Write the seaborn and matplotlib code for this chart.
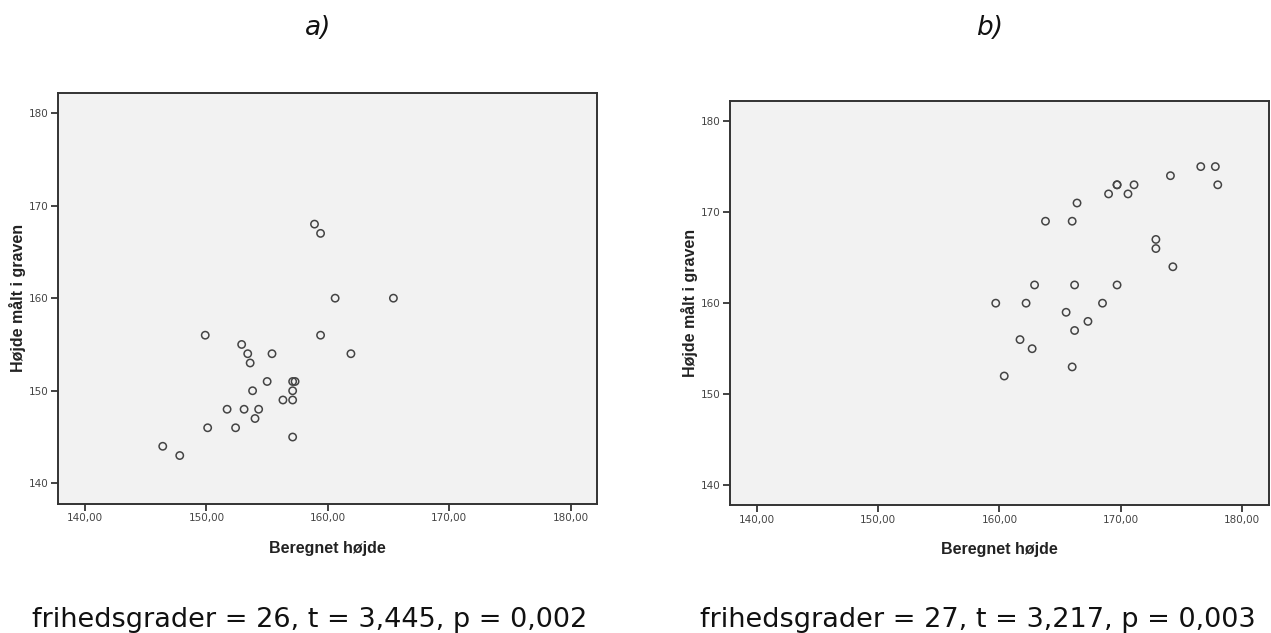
import pandas as pd
import matplotlib
matplotlib.use('Agg')
import matplotlib.pyplot as plt
import seaborn as sns

sns.set_style('white')
plt.rcParams['font.family'] = ['DejaVu Sans']

# a) beregnet højde vs. højde målt i graven
beregnet_a = [158.9, 159.4, 160.6, 165.4, 149.9, 159.4, 152.9, 153.4, 155.4, 161.9,
              153.6, 155.0, 157.1, 157.3, 153.8, 157.1, 156.3, 157.1, 151.7, 153.1,
              154.3, 154.0, 150.1, 152.4, 157.1, 146.4, 147.8]
maalt_a = [168, 167, 160, 160, 156, 156, 155, 154, 154, 154,
           153, 151, 151, 151, 150, 150, 149, 149, 148, 148,
           148, 147, 146, 146, 145, 144, 143]

# b)
beregnet_b = [176.6, 177.8, 174.1, 169.7, 169.7, 171.1, 178.0, 169.0, 170.6, 166.4,
              163.8, 166.0, 172.9, 172.9, 174.3, 162.9, 166.2, 169.7, 159.7, 162.2,
              168.5, 165.5, 167.3, 166.2, 161.7, 162.7, 166.0, 160.4]
maalt_b = [175, 175, 174, 173, 173, 173, 173, 172, 172, 171,
           169, 169, 167, 166, 164, 162, 162, 162, 160, 160,
           160, 159, 158, 157, 156, 155, 153, 152]

x_ticks = [140, 150, 160, 170, 180]
x_tick_labels = ['140,00', '150,00', '160,00', '170,00', '180,00']
y_ticks = [140, 150, 160, 170, 180]
y_tick_labels = ['140', '150', '160', '170', '180']

panels = ['a)', 'b)']
stats = ['frihedsgrader = 26, t = 3,445, p = 0,002',
         'frihedsgrader = 27, t = 3,217, p = 0,003']

df_a = pd.DataFrame({'Beregnet højde': beregnet_a, 'Højde målt i graven': maalt_a})
df_b = pd.DataFrame({'Beregnet højde': beregnet_b, 'Højde målt i graven': maalt_b})

fig = plt.figure(figsize=(12.71, 6.33), dpi=100)
ax_a = fig.add_axes([0.0459, 0.2043, 0.4241, 0.6493])
ax_b = fig.add_axes([0.5744, 0.2017, 0.4238, 0.6387])

label_font = {'family': 'Liberation Sans', 'weight': 'bold', 'size': 11.5, 'color': '#222222'}

for ax, df, title in zip([ax_a, ax_b], [df_a, df_b], panels):
    ax.set_facecolor('#f2f2f2')
    sns.scatterplot(data=df, x='Beregnet højde', y='Højde målt i graven', ax=ax,
                    s=28, facecolor='none', edgecolor='#444444', linewidth=1.1)
    ax.set_xlim(137.8, 182.2)
    ax.set_ylim(137.8, 182.2)
    ax.set_xticks(x_ticks)
    ax.set_xticklabels(x_tick_labels)
    ax.set_yticks(y_ticks)
    ax.set_yticklabels(y_tick_labels)
    ax.tick_params(axis='both', direction='out', length=5, width=1.2, color='#222222',
                   labelsize=7.5, labelcolor='#444444', pad=2, bottom=True, left=True)
    for sp in ax.spines.values():
        sp.set_visible(True)
        sp.set_color('#333333')
        sp.set_linewidth(1.4)
    ax.set_xlabel('Beregnet højde', fontdict=label_font)
    ax.set_ylabel('Højde målt i graven', fontdict=label_font, va='center')
    ax.xaxis.set_label_coords(0.5, -0.09)
    ax.yaxis.set_label_coords(-0.075, 0.5)

fig.text(318 / 1271, 1 - 28 / 633, panels[0], ha='center', va='center',
         fontsize=19, style='italic', color='#111111')
fig.text(990 / 1271, 1 - 28 / 633, panels[1], ha='center', va='center',
         fontsize=19, style='italic', color='#111111')

fig.text(32 / 1271, 1 - 627 / 633, stats[0], ha='left', va='baseline',
         fontsize=19.5, color='#111111')
fig.text(700 / 1271, 1 - 627 / 633, stats[1], ha='left', va='baseline',
         fontsize=19.5, color='#111111')

fig.savefig('out.png', dpi=100)
